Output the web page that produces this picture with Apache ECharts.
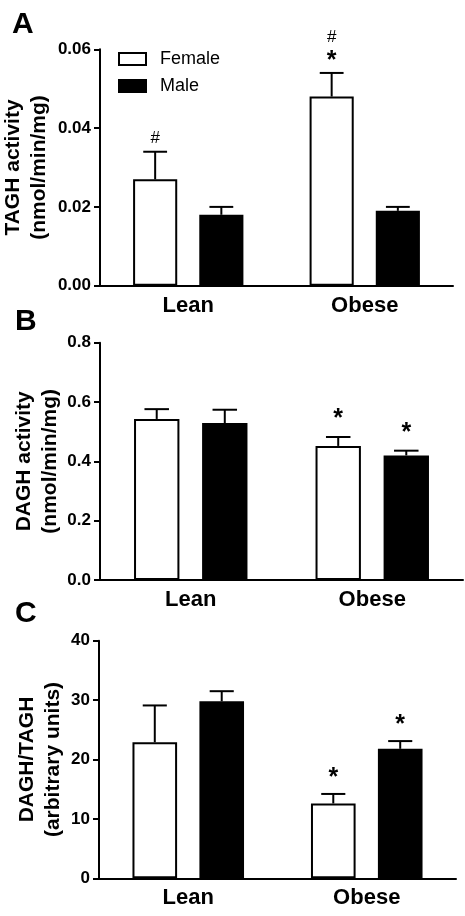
<!DOCTYPE html>
<html>
<head>
<meta charset="utf-8">
<script src="https://cdn.jsdelivr.net/npm/echarts@6/dist/echarts.min.js"></script>
<style>
html,body{margin:0;padding:0;background:#fff;}
#chart{width:465px;height:916px;}
</style>
</head>
<body>
<div id="chart"></div>
<script>
// ---- data ----
const categories = ['Lean', 'Obese'];
const seriesNames = ['Female', 'Male'];

// Panel A: TAGH activity (nmol/min/mg)
const tagFemale = [0.027, 0.048];
const tagFemaleErr = [0.007, 0.006];
const tagMale = [0.018, 0.019];
const tagMaleErr = [0.002, 0.001];
const tagFemaleMarks = ['#', '*#'];
const tagMaleMarks = ['', ''];

// Panel B: DAGH activity (nmol/min/mg)
const dagFemale = [0.543, 0.452];
const dagFemaleErr = [0.033, 0.030];
const dagMale = [0.529, 0.420];
const dagMaleErr = [0.045, 0.016];
const dagFemaleMarks = ['', '*'];
const dagMaleMarks = ['', '*'];

// Panel C: DAGH/TAGH (arbitrary units)
const ratioFemale = [22.9, 12.6];
const ratioFemaleErr = [6.2, 1.6];
const ratioMale = [29.8, 21.8];
const ratioMaleErr = [1.7, 1.3];
const ratioFemaleMarks = ['', '*'];
const ratioMaleMarks = ['', '*'];

// axis ranges
const yA = {min: 0, max: 0.06, interval: 0.02, digits: 2};
const yB = {min: 0, max: 0.8, interval: 0.2, digits: 1};
const yC = {min: 0, max: 40, interval: 10, digits: 0};

// ---- chart ----
const FONT = '"Liberation Sans", Arial, Helvetica, sans-serif';
const chart = echarts.init(document.getElementById('chart'), null, {renderer: 'canvas'});

const BAR_W = 0.25;   // fraction of category band
const GAP = 0.5;      // fraction of bar width

function errSeries(name, axisIdx, side, vals, errs, marks, starGap) {
  return {
    type: 'custom',
    name: name,
    xAxisIndex: axisIdx,
    yAxisIndex: axisIdx,
    z: 5,
    silent: true,
    data: vals.map((v, i) => [i, v, errs[i]]),
    renderItem: function (params, api) {
      const idx = api.value(0);
      const v = api.value(1);
      const e = api.value(2);
      const m = marks[idx] || '';
      const band = api.size([1, 0])[0];
      const bw = band * BAR_W;
      const off = side * (bw + bw * GAP) / 2;
      const x = api.coord([idx, 0])[0] + off;
      const yTop = api.coord([idx, v])[1];
      const yErr = api.coord([idx, v + e])[1];
      const capHalf = bw * 0.27;
      const style = {stroke: '#000', lineWidth: 2};
      const children = [
        {type: 'line', shape: {x1: x, y1: yTop, x2: x, y2: yErr}, style: style},
        {type: 'line', shape: {x1: x - capHalf, y1: yErr, x2: x + capHalf, y2: yErr}, style: style}
      ];
      let cursor = yErr;
      for (const ch of m) {
        if (ch === '*') {
          const y = cursor - starGap;
          children.push({type: 'text', style: {text: '*', x: x, y: y, align: 'center', verticalAlign: 'middle',
            font: 'bold 25px ' + FONT, fill: '#000'}});
          cursor = y - 11;
        } else {
          const y = cursor - 13;
          children.push({type: 'text', style: {text: ch, x: x, y: y, align: 'center', verticalAlign: 'middle',
            font: '17px ' + FONT, fill: '#000'}});
          cursor = y - 12;
        }
      }
      return {type: 'group', children: children};
    }
  };
}

function barSeries(name, axisIdx, vals, filled) {
  return {
    type: 'bar',
    name: name,
    xAxisIndex: axisIdx,
    yAxisIndex: axisIdx,
    data: vals,
    barWidth: (BAR_W * 100) + '%',
    barGap: (GAP * 100) + '%',
    itemStyle: filled ? {color: '#000', borderColor: '#000', borderWidth: 2}
                      : {color: '#fff', borderColor: '#000', borderWidth: 2},
    emphasis: {disabled: true},
    z: 3
  };
}

function xAxis(gridIndex) {
  return {
    type: 'category',
    gridIndex: gridIndex,
    data: categories,
    axisLine: {show: true, lineStyle: {color: '#000', width: 2}},
    axisTick: {show: false},
    axisLabel: {color: '#000', fontFamily: FONT, fontWeight: 'bold', fontSize: 22, margin: 9},
    splitLine: {show: false}
  };
}

function yAxis(gridIndex, r, name, nameGap) {
  return {
    type: 'value',
    gridIndex: gridIndex,
    min: r.min, max: r.max, interval: r.interval,
    name: name,
    nameLocation: 'middle',
    nameRotate: 90,
    nameGap: nameGap,
    nameMoveOverlap: false,
    nameTextStyle: {color: '#000', fontFamily: FONT, fontWeight: 'bold', fontSize: 21, lineHeight: 26, align: 'center'},
    axisLine: {show: true, lineStyle: {color: '#000', width: 2}},
    axisTick: {show: true, length: 6, lineStyle: {color: '#000', width: 2}},
    axisLabel: {color: '#000', fontFamily: FONT, fontWeight: 'bold', fontSize: 17, margin: 9,
      formatter: v => Number(v).toFixed(r.digits)},
    splitLine: {show: false}
  };
}

const option = {
  animation: false,
  backgroundColor: '#fff',
  grid: [
    {left: 100, top: 49.3, width: 353, height: 236.4, containLabel: false, outerBoundsMode: 'none'},
    {left: 100, top: 342.7, width: 363, height: 237.3, containLabel: false, outerBoundsMode: 'none'},
    {left: 99, top: 640.7, width: 357, height: 237.6, containLabel: false, outerBoundsMode: 'none'}
  ],
  legend: {
    left: 118, top: 50,
    padding: 0,
    orient: 'vertical',
    itemWidth: 27, itemHeight: 12, itemGap: 9,
    icon: 'rect',
    selectedMode: false,
    textStyle: {color: '#000', fontFamily: FONT, fontSize: 18, lineHeight: 18, padding: [0, 0, 0, 9]},
    data: [
      {name: seriesNames[0], itemStyle: {color: '#fff', borderColor: '#000', borderWidth: 2}},
      {name: seriesNames[1], itemStyle: {color: '#000', borderColor: '#000', borderWidth: 2}}
    ]
  },
  xAxis: [xAxis(0), xAxis(1), xAxis(2)],
  yAxis: [
    yAxis(0, yA, 'TAGH activity\n(nmol/min/mg)', 48),
    yAxis(1, yB, 'DAGH activity\n(nmol/min/mg)', 37),
    yAxis(2, yC, 'DAGH/TAGH\n(arbitrary units)', 33)
  ],
  graphic: [
    {type: 'text', left: 12, top: 10, style: {text: 'A', font: 'bold 30px ' + FONT, fill: '#000'}},
    {type: 'text', left: 15, top: 307, style: {text: 'B', font: 'bold 30px ' + FONT, fill: '#000'}},
    {type: 'text', left: 15, top: 599, style: {text: 'C', font: 'bold 30px ' + FONT, fill: '#000'}}
  ],
  series: [
    barSeries(seriesNames[0], 0, tagFemale, false),
    barSeries(seriesNames[1], 0, tagMale, true),
    errSeries('errA_F', 0, -1, tagFemale, tagFemaleErr, tagFemaleMarks, 12),
    errSeries('errA_M', 0, 1, tagMale, tagMaleErr, tagMaleMarks, 12),
    barSeries(seriesNames[0], 1, dagFemale, false),
    barSeries(seriesNames[1], 1, dagMale, true),
    errSeries('errB_F', 1, -1, dagFemale, dagFemaleErr, dagFemaleMarks, 18),
    errSeries('errB_M', 1, 1, dagMale, dagMaleErr, dagMaleMarks, 18),
    barSeries(seriesNames[0], 2, ratioFemale, false),
    barSeries(seriesNames[1], 2, ratioMale, true),
    errSeries('errC_F', 2, -1, ratioFemale, ratioFemaleErr, ratioFemaleMarks, 16),
    errSeries('errC_M', 2, 1, ratioMale, ratioMaleErr, ratioMaleMarks, 16)
  ]
};
chart.setOption(option);
</script>
</body>
</html>
